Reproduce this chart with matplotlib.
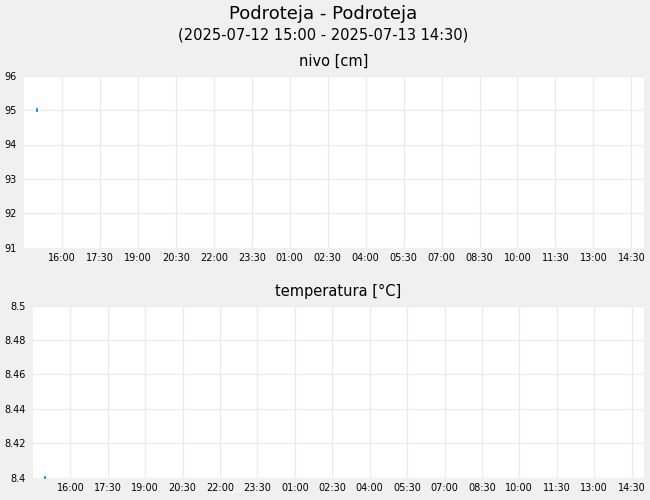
import numpy as np
import pandas as pd
import matplotlib
matplotlib.use('Agg')
import matplotlib.pyplot as plt
import matplotlib.dates as mdates

# data
title = 'Podroteja - Podroteja'
subtitle = '(2025-07-12 15:00 - 2025-07-13 14:30)'
nivo_time = pd.to_datetime(['2025-07-12 15:00'])
nivo_val = [95]
temp_time = pd.to_datetime(['2025-07-12 15:00'])
temp_val = [8.4]
nivo_ticks = [91, 92, 93, 94, 95, 96]
temp_ticks = [8.4, 8.42, 8.44, 8.46, 8.48, 8.5]
x_start = pd.Timestamp('2025-07-12 14:30')
x_end = pd.Timestamp('2025-07-13 15:00')
x_ticks = pd.date_range('2025-07-12 16:00', '2025-07-13 14:30', freq='90min')

bg = '#f0f0f0'
grid_c = '#ebebeb'
line_c = '#0a84d8'

fig = plt.figure(figsize=(6.5, 5), dpi=100, facecolor=bg)
fig.text(0.4977, 0.972, title, ha='center', va='center', fontsize=13)
fig.text(0.4977, 0.930, subtitle, ha='center', va='center', fontsize=10.5)

ax1 = fig.add_axes([0.0369, 0.5046, 0.9539, 0.344])
ax2 = fig.add_axes([0.0508, 0.0446, 0.94, 0.344])


def style(ax, ticks, fmt, name):
    ax.set_facecolor('white')
    for s in ax.spines.values():
        s.set_visible(False)
    ax.set_xlim(x_start, x_end)
    ax.set_ylim(ticks[0], ticks[-1])
    ax.set_yticks(ticks)
    ax.set_yticklabels([fmt(t) for t in ticks])
    ax.set_xticks(x_ticks)
    ax.xaxis.set_major_formatter(mdates.DateFormatter('%H:%M'))
    ax.tick_params(axis='both', length=0, labelsize=7)
    ax.tick_params(axis='y', pad=5)
    ax.tick_params(axis='x', pad=4)
    ax.grid(True, color=grid_c, linewidth=0.9)
    ax.set_axisbelow(True)
    ax.set_title(name, fontsize=10.5, pad=7)


style(ax1, nivo_ticks, lambda t: '%d' % t, 'nivo [cm]')
style(ax2, temp_ticks, lambda t: ('%g' % t), 'temperatura [°C]')

ax1.plot(nivo_time, nivo_val, '|', color=line_c, markersize=3, mew=1.2, clip_on=False)
ax2.plot(temp_time, temp_val, '|', color=line_c, markersize=3, mew=1.2)

fig.savefig('out.png', dpi=100, facecolor=bg)
